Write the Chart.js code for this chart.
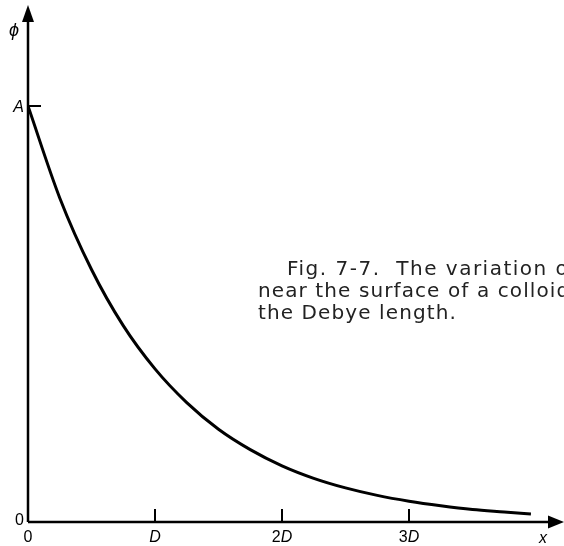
<!DOCTYPE html>
<html>
<head>
<meta charset="utf-8">
<script src="https://cdn.jsdelivr.net/npm/chart.js@4/dist/chart.umd.min.js"></script>
<style>
  html, body { margin: 0; padding: 0; background: #fff; }
  #wrap { width: 564px; height: 546px; position: relative; }
</style>
</head>
<body>
<div id="wrap"><canvas id="c"></canvas></div>
<script>
// x in units of D, phi in units of A
const xValues   = [0, 0.25, 0.5, 0.75, 1.0, 1.25, 1.5, 1.75, 2.0, 2.25, 2.5, 2.75, 3.0, 3.25, 3.5, 3.75, 3.96];
const phiValues = [1.0, 0.779, 0.607, 0.472, 0.368, 0.287, 0.223, 0.174, 0.135, 0.105, 0.082, 0.064, 0.050, 0.039, 0.030, 0.024, 0.019];

const xTicks      = [0, 1, 2, 3];
const xTickLabels = ['0', 'D', '2D', '3D'];
const yTicks      = [0, 1];
const yTickLabels = ['0', 'A'];
const xAxisLabel  = 'x';
const yAxisLabel  = 'ϕ';
const caption = [
    'Fig. 7-7.  The variation of the potential φ',
    'near the surface of a colloidal particle; D is',
    'the Debye length.'
];

const FONT = '"Liberation Sans", Arial, sans-serif';
const CAPTION_FONT = '20px "DejaVu Sans", sans-serif';

// axes, arrows, ticks and labels drawn with the chart's scales
const axesPlugin = {
    id: 'axesPlugin',
    afterDraw(chart) {
        const { ctx, chartArea: a, scales: { x, y } } = chart;
        const x0 = x.getPixelForValue(0);
        const y0 = y.getPixelForValue(0);
        ctx.save();
        ctx.strokeStyle = '#000';
        ctx.fillStyle = '#000';
        ctx.lineWidth = 2.5;

        // axis lines
        ctx.beginPath();
        ctx.moveTo(x0, y0);
        ctx.lineTo(a.right - 10, y0);
        ctx.moveTo(x0, y0);
        ctx.lineTo(x0, a.top + 10);
        ctx.stroke();

        // arrow heads
        ctx.beginPath();
        ctx.moveTo(a.right, y0);
        ctx.lineTo(a.right - 16, y0 - 6.5);
        ctx.lineTo(a.right - 16, y0 + 6.5);
        ctx.closePath();
        ctx.fill();
        ctx.beginPath();
        ctx.moveTo(x0, a.top);
        ctx.lineTo(x0 - 6, a.top + 17);
        ctx.lineTo(x0 + 6, a.top + 17);
        ctx.closePath();
        ctx.fill();

        // tick marks (inside)
        ctx.lineWidth = 2;
        ctx.beginPath();
        xTicks.forEach(v => {
            if (v === 0) return;
            const px = x.getPixelForValue(v);
            ctx.moveTo(px, y0);
            ctx.lineTo(px, y0 - 13);
        });
        yTicks.forEach(v => {
            if (v === 0) return;
            const py = y.getPixelForValue(v);
            ctx.moveTo(x0, py);
            ctx.lineTo(x0 + 13, py);
        });
        ctx.stroke();

        // tick labels
        ctx.textAlign = 'center';
        ctx.textBaseline = 'alphabetic';
        xTicks.forEach((v, i) => {
            const px = x.getPixelForValue(v);
            const lbl = xTickLabels[i];
            if (lbl.endsWith('D')) {
                const num = lbl.slice(0, -1);
                ctx.font = '16px ' + FONT;
                const wNum = ctx.measureText(num).width;
                ctx.font = 'italic 16px ' + FONT;
                const wD = ctx.measureText('D').width;
                let sx = px - (wNum + wD) / 2;
                ctx.textAlign = 'left';
                ctx.font = '16px ' + FONT;
                ctx.fillText(num, sx, y0 + 20);
                ctx.font = 'italic 16px ' + FONT;
                ctx.fillText('D', sx + wNum, y0 + 20);
                ctx.textAlign = 'center';
            } else {
                ctx.font = '16px ' + FONT;
                ctx.fillText(lbl, px, y0 + 20);
            }
        });
        ctx.textAlign = 'right';
        yTicks.forEach((v, i) => {
            const py = y.getPixelForValue(v);
            ctx.font = (yTickLabels[i] === 'A' ? 'italic ' : '') + '16px ' + FONT;
            ctx.fillText(yTickLabels[i], x0 - 4, py + 6 - (v === 0 ? 3 : 0));
        });

        // axis labels
        ctx.font = 'italic 16px ' + FONT;
        ctx.textAlign = 'center';
        ctx.fillText(xAxisLabel, a.right - 21, y0 + 21);
        ctx.font = 'italic 18px ' + FONT;
        ctx.fillText(yAxisLabel, x0 - 14, a.top + 31);

        // caption (runs off the right edge, as in the source)
        ctx.font = CAPTION_FONT;
        ctx.textAlign = 'left';
        ctx.fillStyle = '#222';
        ctx.letterSpacing = '1.5px';
        ctx.fillText(caption[0], 287, 275);
        ctx.letterSpacing = '1.1px';
        ctx.fillText(caption[1], 258, 297);
        ctx.fillText(caption[2], 258, 319);
        ctx.restore();
    }
};

new Chart(document.getElementById('c'), {
    type: 'line',
    data: {
        datasets: [{
            data: xValues.map((v, i) => ({ x: v, y: phiValues[i] })),
            borderColor: '#000',
            borderWidth: 3,
            pointRadius: 0,
            cubicInterpolationMode: 'monotone',
            fill: false
        }]
    },
    options: {
        responsive: true,
        maintainAspectRatio: false,
        animation: false,
        events: [],
        layout: { padding: { left: 28, right: 0, top: 5, bottom: 24 } },
        plugins: { legend: { display: false }, tooltip: { enabled: false } },
        scales: {
            x: { type: 'linear', display: false, min: 0, max: 536 / 127 },
            y: { type: 'linear', display: false, min: 0, max: 517 / 416 }
        }
    },
    plugins: [axesPlugin]
});
</script>
</body>
</html>
